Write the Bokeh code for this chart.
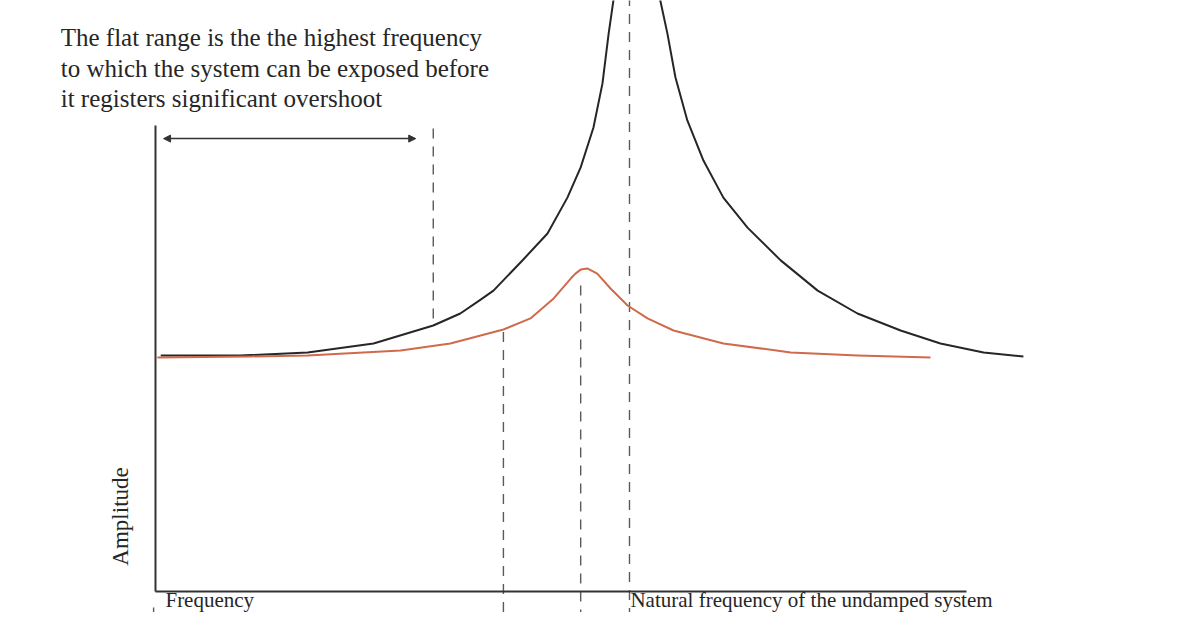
from bokeh.plotting import figure
from bokeh.models import Range1d, Arrow, NormalHead
from bokeh.core.properties import value
from bokeh.embed import file_html
from bokeh.resources import INLINE
import math

# ---- data (frequency ratio vs amplitude ratio) ----
undamped_x = [0.011, 0.179, 0.321, 0.460, 0.586, 0.643, 0.686, 0.713, 0.776, 0.827,
              0.869, 0.897, 0.924, 0.943, 0.956, 0.966, 0.975,
              1.059, 1.065, 1.080, 1.097, 1.122, 1.156, 1.198, 1.249, 1.319,
              1.397, 1.481, 1.572, 1.656, 1.747, 1.831]
undamped_y = [1.000, 1.000, 1.013, 1.051, 1.127, 1.178, 1.237, 1.275, 1.407, 1.517,
              1.669, 1.797, 1.966, 2.153, 2.364, 2.504, 2.631,
              2.631, 2.504, 2.364, 2.178, 1.996, 1.826, 1.669, 1.542, 1.403,
              1.275, 1.178, 1.106, 1.051, 1.013, 0.996]

damped_x = [0.004, 0.200, 0.321, 0.517, 0.622, 0.686, 0.734, 0.791, 0.840, 0.876,
            0.886, 0.897, 0.911, 0.932, 0.960, 0.996, 1.038, 1.093, 1.198, 1.340,
            1.481, 1.635]
damped_y = [0.992, 0.996, 1.000, 1.021, 1.051, 1.085, 1.110, 1.157, 1.242, 1.326,
            1.347, 1.364, 1.369, 1.347, 1.284, 1.212, 1.157, 1.106, 1.051, 1.013,
            1.000, 0.992]

marker_x = [0.586, 0.734, 0.897, 1.000, -0.004]
marker_y0 = [1.962, 1.100, 1.297, 2.600, -0.068]
marker_y1 = [1.127, -0.200, -0.200, -0.200, -0.200]

axis_x_end = 1.711
axis_y_top = 1.975

flat_range_x = [0.017, 0.549]
flat_range_y = 1.919

note_lines = ["The flat range is the the highest frequency",
              "to which the system can be exposed before",
              "it registers significant overshoot"]
note_x = -0.200
note_y = [2.347, 2.216, 2.089]

y_label = "Amplitude"
x_label = "Frequency"
natural_label = "Natural frequency of the undamped system"

# ---- figure: frame covers the whole canvas ----
W, H = 1180, 612
p = figure(width=W, height=H, output_backend="svg", toolbar_location=None,
           x_range=Range1d(-0.32700, 2.16245), y_range=Range1d(-0.08898, 2.50424),
           min_border=0, min_border_left=0, min_border_right=0,
           min_border_top=0, min_border_bottom=0)
p.axis.visible = False
p.grid.visible = False
p.outline_line_color = None
p.background_fill_color = "white"
p.border_fill_color = "white"

serif = value("Liberation Serif")
ink = "#262626"

# dashed guide lines
p.segment(x0=marker_x, y0=marker_y0, x1=marker_x, y1=marker_y1,
          line_color="#5a5a5a", line_width=1.4, line_dash="10 8")

# axes
p.line([0, 0], [axis_y_top, 0], line_color="#333333", line_width=2)
p.line([0, axis_x_end], [0, 0], line_color="#333333", line_width=2)

# curves
p.line(undamped_x, undamped_y, line_color="#262626", line_width=2, line_join="round")
p.line(damped_x, damped_y, line_color="#cf6a4c", line_width=2, line_join="round")

# flat-range arrow
p.add_layout(Arrow(x_start=flat_range_x[0], y_start=flat_range_y,
                   x_end=flat_range_x[1], y_end=flat_range_y,
                   line_color="#333333", line_width=1.5,
                   start=NormalHead(size=7, fill_color="#333333", line_color="#333333"),
                   end=NormalHead(size=7, fill_color="#333333", line_color="#333333")))

# texts
p.text(x=[note_x] * 3, y=note_y, text=note_lines, text_font=serif,
       text_font_size="25px", text_color=ink, text_baseline="alphabetic",
       text_align="left")
p.text(x=[-0.0738], y=[0.318], text=[y_label], angle=math.pi / 2,
       text_font=serif, text_font_size="23px", text_color=ink,
       text_baseline="alphabetic", text_align="center")
p.text(x=[0.021], y=[-0.034], text=[x_label], text_font=serif,
       text_font_size="21px", text_color=ink, text_baseline="alphabetic",
       text_align="left")
p.text(x=[1.002], y=[-0.034], text=[natural_label], text_font=serif,
       text_font_size="21px", text_color=ink, text_baseline="alphabetic",
       text_align="left")

open("out.html", "w").write(file_html(p, INLINE))
